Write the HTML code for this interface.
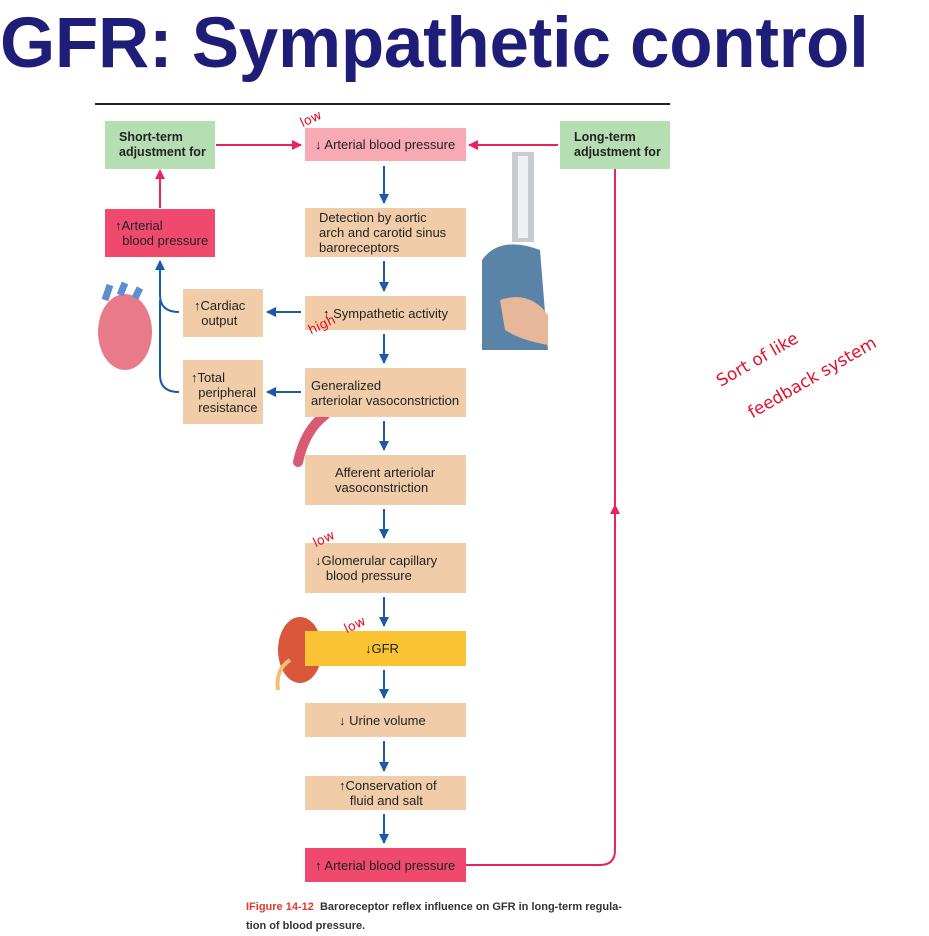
<!DOCTYPE html>
<html><head><meta charset="utf-8"><style>
body{margin:0;width:929px;height:934px;background:#fff;position:relative;overflow:hidden;font-family:"Liberation Sans",sans-serif}
.b{position:absolute;background:#f0cda8;font-size:13px;color:#222;line-height:15px;box-sizing:border-box;padding-left:14px;display:flex;flex-direction:column;justify-content:center}
.t{position:absolute;font-family:"Liberation Sans",sans-serif;font-weight:bold;color:#1e1e78;font-size:71px;line-height:80px;left:0px;top:4px;letter-spacing:-0.3px;white-space:nowrap}
.hw{position:absolute;color:#e0102a;font-family:"DejaVu Sans",sans-serif;font-size:13px}
</style></head><body>
<div class="t">GFR: Sympathetic control</div>
<div style="position:absolute;left:95px;top:103px;width:575px;height:2px;background:#222"></div>
<svg style="position:absolute;left:0;top:0" width="929" height="934">
<defs>
<marker id="bl" markerWidth="10" markerHeight="10" refX="9" refY="5" orient="auto" markerUnits="userSpaceOnUse"><path d="M0,0L10,5L0,10z" fill="#1a5aa8"/></marker>
<marker id="rd" markerWidth="10" markerHeight="10" refX="9" refY="5" orient="auto" markerUnits="userSpaceOnUse"><path d="M0,0L10,5L0,10z" fill="#e8245a"/></marker>
</defs>
<g stroke="#1a5aa8" stroke-width="2" fill="none">
<line x1="384" y1="166" x2="384" y2="203" marker-end="url(#bl)"/>
<line x1="384" y1="261" x2="384" y2="291" marker-end="url(#bl)"/>
<line x1="384" y1="334" x2="384" y2="363" marker-end="url(#bl)"/>
<line x1="384" y1="421" x2="384" y2="450" marker-end="url(#bl)"/>
<line x1="384" y1="509" x2="384" y2="538" marker-end="url(#bl)"/>
<line x1="384" y1="597" x2="384" y2="626" marker-end="url(#bl)"/>
<line x1="384" y1="670" x2="384" y2="698" marker-end="url(#bl)"/>
<line x1="384" y1="741" x2="384" y2="771" marker-end="url(#bl)"/>
<line x1="384" y1="814" x2="384" y2="843" marker-end="url(#bl)"/>
<line x1="301" y1="312" x2="267" y2="312" marker-end="url(#bl)"/>
<line x1="301" y1="392" x2="267" y2="392" marker-end="url(#bl)"/>
<path d="M179,312 Q160,312 160,295 L160,261" marker-end="url(#bl)"/>
<path d="M179,392 Q160,392 160,375 L160,300"/>
</g>
<g stroke="#e8245a" stroke-width="2" fill="none">
<line x1="216" y1="145" x2="301" y2="145" marker-end="url(#rd)"/>
<line x1="160" y1="208" x2="160" y2="170" marker-end="url(#rd)"/>
<line x1="558" y1="145" x2="469" y2="145" marker-end="url(#rd)"/>
<path d="M466,865 L600,865 Q615,865 615,850 L615,505" marker-end="url(#rd)"/>
<line x1="615" y1="510" x2="615" y2="169"/>
</g>
<rect x="512" y="152" width="22" height="90" fill="#c8ccd2"/>
<rect x="518" y="156" width="10" height="82" fill="#eef0f2"/>
<path d="M482,350 L482,260 Q500,235 540,250 L548,350 Z" fill="#5a83a8"/>
<path d="M500,300 Q530,290 548,315 L548,345 Q520,340 505,330Z" fill="#e8b79a"/>
<ellipse cx="125" cy="332" rx="27" ry="38" fill="#e87a8a"/>
<path d="M105,300 L110,285 M120,295 L125,283 M135,298 L140,288" stroke="#5b8fcf" stroke-width="7"/>
<path d="M298,462 Q305,430 325,415" stroke="#d95a72" stroke-width="10" fill="none" stroke-linecap="round"/>
<ellipse cx="300" cy="650" rx="22" ry="33" fill="#d9573a"/>
<path d="M290,660 Q275,670 278,690" stroke="#f0c070" stroke-width="4" fill="none"/>
</svg>
<div class="b" style="left:105px;top:121px;width:110px;height:48px;background:#b5dfb2;font-weight:bold;font-size:12.5px">Short-term<br>adjustment for</div>
<div class="b" style="left:560px;top:121px;width:110px;height:48px;background:#b5dfb2;font-weight:bold;font-size:12.5px">Long-term<br>adjustment for</div>
<div class="b" style="left:105px;top:209px;width:110px;height:48px;background:#ef4a6e;padding-left:10px">↑Arterial<br>&nbsp;&nbsp;blood pressure</div>
<div class="b" style="left:183px;top:289px;width:80px;height:48px;padding-left:11px">↑Cardiac<br>&nbsp;&nbsp;output</div>
<div class="b" style="left:183px;top:360px;width:80px;height:64px;padding-left:8px">↑Total<br>&nbsp;&nbsp;peripheral<br>&nbsp;&nbsp;resistance</div>
<div class="b" style="left:305px;top:128px;width:161px;height:33px;background:#f7a9b4;padding-left:10px">↓ Arterial blood pressure</div>
<div class="b" style="left:305px;top:208px;width:161px;height:49px">Detection by aortic<br>arch and carotid sinus<br>baroreceptors</div>
<div class="b" style="left:305px;top:296px;width:161px;height:34px;padding-left:18px">↑ Sympathetic activity</div>
<div class="b" style="left:305px;top:368px;width:161px;height:49px;padding-left:6px">Generalized<br>arteriolar vasoconstriction</div>
<div class="b" style="left:305px;top:455px;width:161px;height:50px;padding-left:30px">Afferent arteriolar<br>vasoconstriction</div>
<div class="b" style="left:305px;top:543px;width:161px;height:50px;padding-left:10px">↓Glomerular capillary<br>&nbsp;&nbsp;&nbsp;blood pressure</div>
<div class="b" style="left:305px;top:631px;width:161px;height:35px;background:#f9c333;padding-left:60px">↓GFR</div>
<div class="b" style="left:305px;top:703px;width:161px;height:34px;padding-left:34px">↓ Urine volume</div>
<div class="b" style="left:305px;top:776px;width:161px;height:34px;padding-left:34px">↑Conservation of<br>&nbsp;&nbsp;&nbsp;fluid and salt</div>
<div class="b" style="left:305px;top:848px;width:161px;height:34px;background:#ef4a6e;padding-left:10px">↑ Arterial blood pressure</div>
<div style="position:absolute;left:246px;top:898px;font-size:11px;font-weight:bold;color:#333;line-height:19px"><span style="color:#e23a2a">IFigure 14-12</span>&nbsp; Baroreceptor reflex influence on GFR in long-term regula-<br>tion of blood pressure.</div>
<div class="hw" style="left:300px;top:112px;transform:rotate(-25deg)">low</div>
<div class="hw" style="left:308px;top:318px;transform:rotate(-25deg)">high</div>
<div class="hw" style="left:313px;top:532px;transform:rotate(-25deg)">low</div>
<div class="hw" style="left:344px;top:618px;transform:rotate(-25deg)">low</div>
<div class="hw" style="left:712px;top:350px;font-size:17px;transform:rotate(-30deg)">Sort of like</div>
<div class="hw" style="left:740px;top:368px;font-size:17px;transform:rotate(-30deg)">feedback system</div>
</body></html>
